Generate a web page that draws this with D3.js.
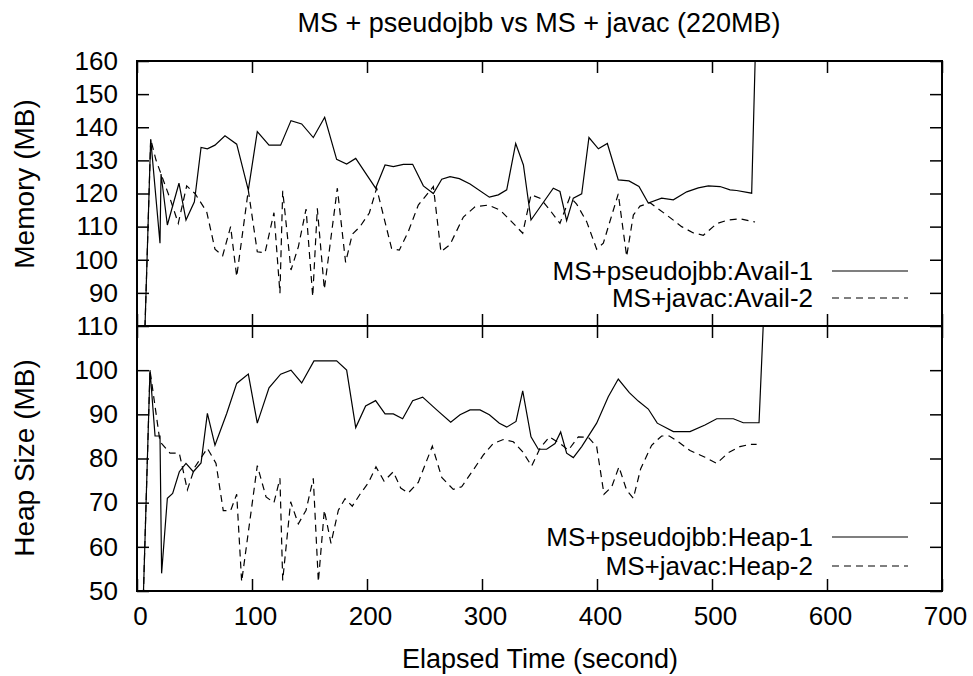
<!DOCTYPE html>
<html>
<head>
<meta charset="utf-8">
<script src="https://cdn.jsdelivr.net/npm/d3@7"></script>
<style>
  body { margin: 0; background: #fff; }
  text { font-family: "Liberation Sans", Arial, sans-serif; fill: #000; }
</style>
</head>
<body>
<script>

// Elapsed time (s) and MB values
var pseudoAvailT  = [0, 11.9, 20, 20.9, 26.4, 36.5, 42.6, 49.9, 55.7, 61.2, 67.8, 76.5, 86.7, 96.8, 104.6, 114.8, 124.9, 133.9, 143.2, 153.3, 163.2, 173.6, 182.3, 190.2, 207.5, 215.7, 222.9, 231.6, 239.7, 249, 257.7, 265, 272.2, 280.3, 289.6, 306.4, 314.2, 321.5, 329.3, 336, 342.6, 362, 367.8, 373.6, 379.4, 386.7, 393, 401.2, 409, 418.5, 427.8, 436.5, 444.6, 456.2, 466.4, 478, 488.1, 496.8, 507, 515.7, 521.4, 534.5, 542];
var pseudoAvailMB = [0, 136.4, 105, 125.9, 110.5, 123.1, 112, 117.5, 133.9, 133.5, 134.6, 137.4, 134.9, 121, 138.7, 134.6, 134.6, 142, 141, 136.9, 143, 130.3, 128.9, 130.6, 121.6, 128.6, 128.1, 128.8, 128.8, 122.3, 120, 124.3, 125.1, 124.5, 122.9, 118.9, 119.6, 121.1, 135.1, 128.6, 112, 121.6, 120.6, 111.8, 118.6, 119.9, 136.9, 133.5, 135.1, 124.1, 123.8, 122.1, 117.1, 118.6, 118.1, 120.5, 121.7, 122.3, 122.1, 121.1, 120.9, 120.1, 220];

var javacAvailT  = [0, 11.9, 16.5, 28.7, 35.9, 43.2, 50.4, 60.6, 67.8, 74.5, 81.4, 86.7, 96.8, 104.6, 111.3, 119.1, 124.3, 126.7, 133.9, 140.3, 147, 152.8, 156.8, 162.9, 174.2, 181.4, 187.2, 193.9, 202, 208.4, 221.4, 228.1, 235.9, 244.6, 257.7, 264.3, 272.2, 283.8, 293.9, 305.5, 315.7, 327.2, 335.4, 342.6, 350.4, 357.7, 367.8, 376.5, 382.3, 391, 399.7, 405.5, 418.5, 425.8, 431.6, 437.4, 446.1, 460.6, 473.6, 483.8, 492.5, 504.1, 512.8, 524.3, 537.4];
var javacAvailMB = [0, 136.4, 130.1, 118.5, 111, 122.3, 120, 114.5, 103.2, 101.2, 110, 94.9, 121, 102.4, 102.1, 114.2, 89.9, 120.8, 96.9, 103.9, 115.3, 88.9, 115.5, 91.1, 121.6, 99.2, 107.7, 110, 114.1, 121.6, 103.4, 102.9, 108.5, 116.5, 122.1, 102.4, 104.6, 112.9, 116, 116.5, 115, 111, 108, 119.6, 118.6, 115.6, 111, 119, 116.8, 111.5, 103.2, 105, 119.9, 101, 113.5, 116.2, 117.2, 113.5, 110, 108.1, 107.4, 110.9, 111.9, 112.4, 111.4];

var pseudoHeapT  = [0, 11.3, 15.7, 20, 21.4, 26.4, 31, 36.8, 42.6, 49, 55.7, 61.2, 67.8, 78, 86.7, 96.8, 104.6, 114.8, 124.9, 133.9, 143.2, 153.9, 173.6, 182.3, 190.2, 198.8, 207.5, 215.7, 222.9, 231, 239.7, 248.4, 260.6, 272.8, 280.9, 289.6, 298.3, 306.4, 315.1, 321.5, 329.6, 335.4, 342.6, 349, 356.2, 363.5, 368.4, 373.6, 379.4, 386.7, 399.7, 409.8, 418.5, 428.1, 435.9, 444.6, 452.4, 466.4, 480.9, 493.9, 504.1, 518.6, 527.2, 540.9, 547];
var pseudoHeapMB = [0, 100, 85.1, 85.1, 54, 71, 72.1, 77, 78.9, 77, 79, 90.2, 83, 90.2, 97, 99.1, 88, 96, 99.1, 100, 97.1, 102.1, 102.1, 100, 87, 91.9, 93.1, 90.1, 90.1, 89, 93.1, 93.9, 91, 88.2, 89.9, 91, 91, 89.9, 88, 87.1, 88.4, 95.3, 84.9, 82.1, 82.1, 83.4, 86, 81.2, 80.2, 82.7, 88, 94, 98, 94.9, 93, 91.2, 88, 86.1, 86.1, 87.6, 89, 89, 88.1, 88.1, 125];

var javacHeapT  = [0, 11.3, 20, 28.7, 36.8, 43.8, 50.4, 61.2, 68.7, 75, 81.4, 86.7, 91, 104.6, 112.2, 119.1, 124.3, 126.7, 133.6, 140.3, 147, 153.3, 157.7, 162.9, 168.7, 175.1, 180.9, 187.2, 193.9, 201.2, 207.8, 214.8, 222.9, 229.3, 235.9, 244.6, 256.8, 265, 275, 282.3, 292.4, 301.2, 309.8, 318.5, 327.2, 335.4, 343.2, 350.4, 358.6, 367.8, 375.1, 383.8, 392.5, 399.7, 406.1, 412.8, 419.1, 425.8, 431.6, 438, 447.5, 456.2, 462.9, 470.7, 480.9, 493.9, 504.1, 514.2, 524.3, 533, 538.8];
var javacHeapMB = [0, 100, 83.8, 81.2, 81.2, 72.9, 78.1, 82.3, 78.9, 68.2, 68.2, 71.9, 52.1, 78.4, 71.3, 70, 75.5, 52.4, 70.2, 65.2, 68.3, 75.5, 52.1, 68.3, 60.8, 68.3, 70.9, 69.2, 71.9, 74.5, 78.1, 74.9, 77, 73.3, 72.2, 74.6, 82.8, 75.7, 73, 73.6, 77.4, 80.8, 83.4, 84.3, 83.8, 81.5, 78.3, 82.3, 84.9, 83.4, 81.9, 84.9, 84.8, 82.7, 71.9, 73.6, 78.1, 72.8, 71, 77.7, 83, 85.1, 85.1, 83.8, 81.8, 80.3, 78.9, 81.3, 82.7, 83.2, 83.2];

var xTicks = [0, 100, 200, 300, 400, 500, 600, 700];
var availTicks = [90, 100, 110, 120, 130, 140, 150, 160];
var heapTicks = [50, 60, 70, 80, 90, 100, 110];

var width = 973,
	height = 676;

var left = 137, right = 942;

var svg = d3.select("body").append("svg")
	.attr("width", width)
	.attr("height", height);

var x = d3.scaleLinear().domain([0, 700]).range([left, right]);

function zip(t, v) {
	return t.map(function(d, i) { return [d, v[i]]; });
}

function panel(id, top, bottom, yDomain, ticks, label, labelY, series, legendY, legendGap) {
	var y = d3.scaleLinear().domain(yDomain).range([bottom, top]);

	svg.append("clipPath").attr("id", id)
		.append("rect")
		.attr("x", left).attr("y", top)
		.attr("width", right - left).attr("height", bottom - top);

	var line = d3.line()
		.x(function(d) { return x(d[0]); })
		.y(function(d) { return y(d[1]); });

	var g = svg.append("g").attr("clip-path", "url(#" + id + ")");

	series.forEach(function(s) {
		g.append("path")
			.datum(s.data)
			.attr("d", line)
			.attr("fill", "none")
			.attr("stroke", "#000")
			.attr("stroke-width", 1.2)
			.attr("stroke-dasharray", s.dash);
	});

	// y axes, ticks pointing inwards
	var yl = svg.append("g")
		.attr("transform", "translate(" + left + ",0)")
		.call(d3.axisLeft(y).tickValues(ticks).tickSizeInner(-12).tickSizeOuter(0).tickPadding(19));
	var yr = svg.append("g")
		.attr("transform", "translate(" + right + ",0)")
		.call(d3.axisRight(y).tickValues(ticks).tickSizeInner(-12).tickSizeOuter(0).tickFormat(""));

	var xt = svg.append("g")
		.attr("transform", "translate(0," + top + ")")
		.call(d3.axisTop(x).tickValues(xTicks).tickSizeInner(-12).tickSizeOuter(0).tickFormat(""));
	var xb = svg.append("g")
		.attr("transform", "translate(0," + bottom + ")")
		.call(d3.axisBottom(x).tickValues(xTicks).tickSizeInner(-12).tickSizeOuter(0).tickPadding(16));

	[yl, yr, xt, xb].forEach(function(a) {
		a.select(".domain").remove();
		a.selectAll("line").attr("stroke-width", 1.5);
		a.selectAll("text").style("font-size", "26px").attr("font-family", null);
	});
	xb.selectAll("text").attr("dx", 3);

	svg.append("rect")
		.attr("x", left).attr("y", top)
		.attr("width", right - left).attr("height", bottom - top)
		.attr("fill", "none")
		.attr("stroke", "#000")
		.attr("stroke-width", 2);

	svg.append("text")
		.attr("transform", "translate(34," + labelY + ") rotate(-90)")
		.attr("text-anchor", "middle")
		.style("font-size", "28px")
		.text(label);

	// key
	var key = svg.append("g");
	series.forEach(function(s, i) {
		var ky = legendY + i * legendGap;
		key.append("text")
			.attr("x", 813).attr("y", ky)
			.attr("dy", "0.35em")
			.attr("text-anchor", "end")
			.style("font-size", "26px")
			.text(s.name);
		key.append("line")
			.attr("x1", 832).attr("x2", 908)
			.attr("y1", ky).attr("y2", ky)
			.attr("stroke", "#000")
			.attr("stroke-width", 1.2)
			.attr("stroke-dasharray", s.dash);
	});

	return xb;
}

var topX = panel("clipAvail", 61, 326, [80, 160], availTicks, "Memory (MB)", 184, [
	{ name: "MS+pseudojbb:Avail-1", data: zip(pseudoAvailT, pseudoAvailMB), dash: null },
	{ name: "MS+javac:Avail-2", data: zip(javacAvailT, javacAvailMB), dash: "7,5" }
], 271, 27);
topX.selectAll("text").remove();

panel("clipHeap", 326, 591, [50, 110], heapTicks, "Heap Size (MB)", 458, [
	{ name: "MS+pseudojbb:Heap-1", data: zip(pseudoHeapT, pseudoHeapMB), dash: null },
	{ name: "MS+javac:Heap-2", data: zip(javacHeapT, javacHeapMB), dash: "7,5" }
], 537, 29);

svg.append("text")
	.attr("x", 539).attr("y", 32)
	.attr("text-anchor", "middle")
	.style("font-size", "27px")
	.text("MS + pseudojbb vs MS + javac (220MB)");

svg.append("text")
	.attr("x", 540).attr("y", 668)
	.attr("text-anchor", "middle")
	.style("font-size", "27px")
	.text("Elapsed Time (second)");

</script>
</body>
</html>
